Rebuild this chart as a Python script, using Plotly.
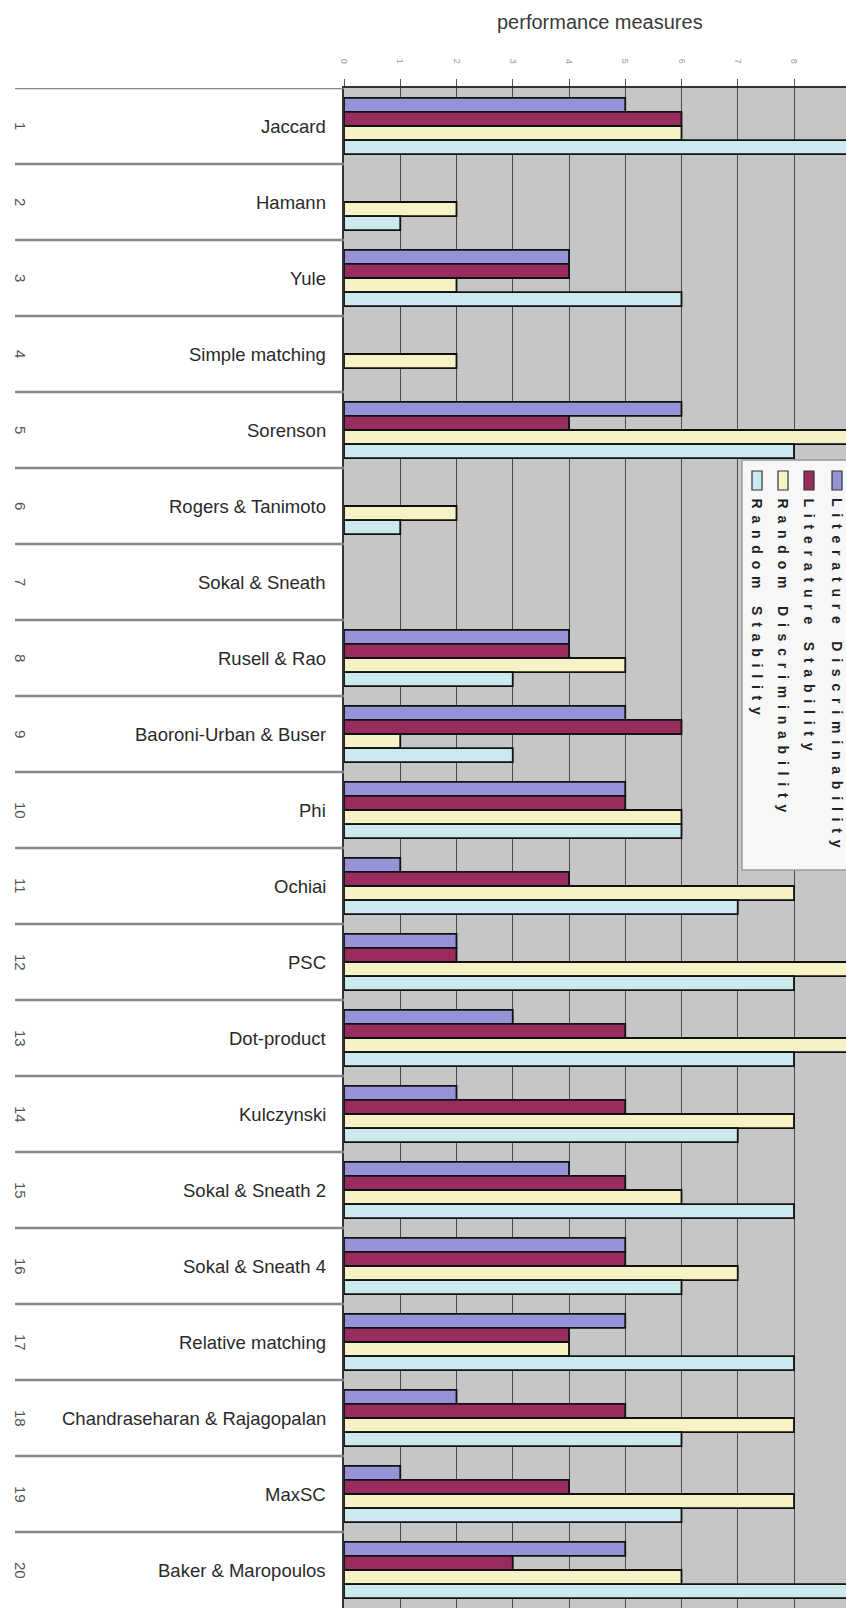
import plotly.graph_objects as go

W, H = 846, 1608
ML, MT = 344, 88

measures = ["Jaccard", "Hamann", "Yule", "Simple matching", "Sorenson",
            "Rogers & Tanimoto", "Sokal & Sneath", "Rusell & Rao",
            "Baoroni-Urban & Buser", "Phi", "Ochiai", "PSC", "Dot-product",
            "Kulczynski", "Sokal & Sneath 2", "Sokal & Sneath 4",
            "Relative matching", "Chandraseharan & Rajagopalan", "MaxSC",
            "Baker & Maropoulos"]
row_numbers = [str(i) for i in range(1, 21)]

series_names = ["Literature Discriminability", "Literature Stability",
                "Random Discriminability", "Random Stability"]
lit_discrim = [5, 0, 4, 0, 6, 0, 0, 4, 5, 5, 1, 2, 3, 2, 4, 5, 5, 2, 1, 5]
lit_stab    = [6, 0, 4, 0, 4, 0, 0, 4, 6, 5, 4, 2, 5, 5, 5, 5, 4, 5, 4, 3]
rand_discrim = [6, 2, 2, 2, 9, 2, 0, 5, 1, 6, 8, 9, 9, 8, 6, 7, 4, 8, 8, 6]
rand_stab   = [9, 1, 6, 0, 8, 1, 0, 3, 3, 6, 7, 8, 8, 7, 8, 6, 8, 6, 6, 9]
x_ticks = [0, 1, 2, 3, 4, 5, 6, 7, 8]

colors = ["#9494d6", "#982c5e", "#f7f1c6", "#cbe9ef"]

PW = W - ML
PH = H - MT
def px(x):
    return (x - ML) / PW
def py(y):
    return 1 - (y - MT) / PH

FONT = "Liberation Sans, Arial"
ypos = list(range(len(measures)))
fig = go.Figure()
for name, vals, col in zip(series_names, [lit_discrim, lit_stab, rand_discrim, rand_stab], colors):
    fig.add_trace(go.Bar(
        x=vals, y=ypos, orientation="h", name=name,
        marker=dict(color=col, line=dict(color="#111111",
                                         width=[1.8 if v > 0 else 0 for v in vals])),
        showlegend=False))

annotations = []
shapes = []
for i, (m, n) in enumerate(zip(measures, row_numbers)):
    annotations.append(dict(x=px(328), y=i, xref="paper", yref="y", text=m,
                            showarrow=False, xanchor="right", yanchor="middle",
                            font=dict(family=FONT, size=18.5, color="#2a2a2a")))
    annotations.append(dict(x=px(21), y=i, xref="paper", yref="y", text=n,
                            showarrow=False, textangle=90, xanchor="center", yanchor="middle",
                            font=dict(family=FONT, size=15, color="#555555")))
for k in range(len(measures)):
    shapes.append(dict(type="line", xref="paper", yref="y", x0=px(15), x1=0,
                       y0=k - 0.5, y1=k - 0.5, line=dict(color="#888888", width=2.5)))

annotations.append(dict(x=px(600), y=py(22), xref="paper", yref="paper",
                        text="performance measures", showarrow=False,
                        xanchor="center", yanchor="middle",
                        font=dict(family=FONT, size=20, color="#3a3a3a")))

# rotated legend
shapes.append(dict(type="rect", xref="paper", yref="paper", x0=px(742), x1=px(850),
                   y0=py(870), y1=py(460), fillcolor="#f7f7f7",
                   line=dict(color="#9a9a9a", width=1.5)))
leg_x = [837, 809, 783, 757]
for name, col, lx in zip(series_names, colors, leg_x):
    shapes.append(dict(type="rect", xref="paper", yref="paper", x0=px(lx - 5), x1=px(lx + 5),
                       y0=py(490), y1=py(471), fillcolor=col,
                       line=dict(color="#333333", width=1.2)))
    annotations.append(dict(x=px(lx), y=py(496), xref="paper", yref="paper",
                            text='<span style="letter-spacing:6.8px"><b>' + name + '</b></span>',
                            showarrow=False, textangle=90, xanchor="center", yanchor="top",
                            font=dict(family=FONT, size=14, color="#222222")))

fig.update_layout(
    width=W, height=H,
    margin=dict(l=ML, r=0, t=MT, b=0),
    paper_bgcolor="white", plot_bgcolor="#c6c6c6",
    barmode="group", bargap=0.26, bargroupgap=0,
    annotations=annotations, shapes=shapes,
    xaxis=dict(side="top", range=[0, PW / 56.25], tickvals=x_ticks,
               ticktext=[str(t) for t in x_ticks], tickangle=90,
               ticks="outside", ticklen=7, tickcolor="#555555",
               tickfont=dict(family=FONT, size=9, color="#9a9a9a"),
               ticklabelstandoff=12,
               showgrid=True, gridcolor="#4a4a4a", gridwidth=1,
               showline=True, linecolor="#333333", linewidth=2, zeroline=False),
    yaxis=dict(range=[len(measures) - 0.5, -0.5], showticklabels=False, showgrid=False,
               zeroline=False, showline=True, linecolor="#333333", linewidth=2, ticks=""),
)

fig.write_html("out.html")
